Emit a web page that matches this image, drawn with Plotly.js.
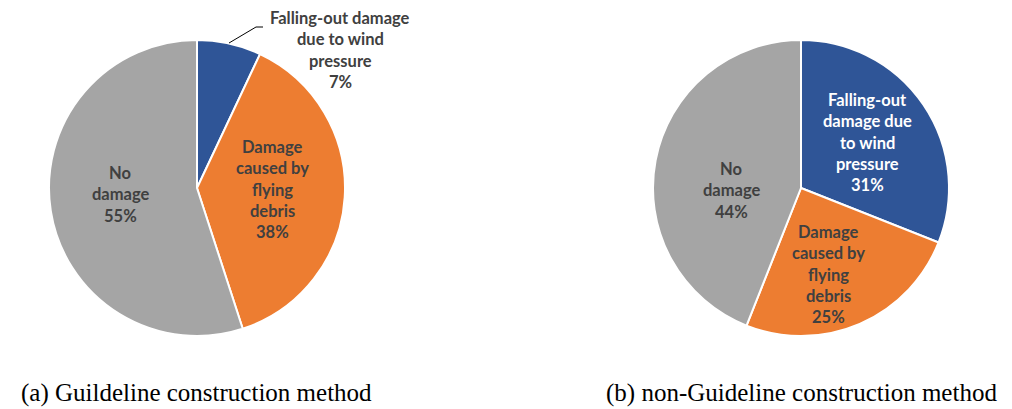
<!DOCTYPE html>
<html>
<head>
<meta charset="utf-8">
<script src="https://cdn.plot.ly/plotly-3.0.1.min.js"></script>
<style>html,body{margin:0;padding:0;background:#fff;} #chart{width:1012px;height:409px;}</style>
</head>
<body>
<div id="chart"></div>
<script>
// Data
const categories = ["Falling-out damage due to wind pressure", "Damage caused by flying debris", "No damage"];
const guidelineValues = [7, 38, 55];
const nonGuidelineValues = [31, 25, 44];
const sliceColors = ["#2F5597", "#ED7D31", "#A5A5A5"];
const guidelineLabelLines = [["Falling-out damage", "due to wind", "pressure"], ["Damage", "caused by", "flying", "debris"], ["No", "damage"]];
const nonGuidelineLabelLines = [["Falling-out", "damage due", "to wind", "pressure"], ["Damage", "caused by", "flying", "debris"], ["No", "damage"]];
const captions = ["(a) Guildeline construction method", "(b) non-Guideline construction method"];

const W = 1012, H = 409;
const px = x => x / W;
const py = y => 1 - y / H;

function pieTrace(values, dom) {
  return {
    type: 'pie',
    labels: categories,
    values: values,
    sort: false,
    direction: 'clockwise',
    rotation: 0,
    textinfo: 'none',
    hoverinfo: 'label+percent',
    marker: {colors: sliceColors, line: {color: '#ffffff', width: 2}},
    domain: dom,
    showlegend: false
  };
}

const data = [
  pieTrace(guidelineValues, {x: [px(49), px(345)], y: [py(336), py(40)]}),
  pieTrace(nonGuidelineValues, {x: [px(653), px(949)], y: [py(336), py(40)]})
];

const labelFont = {family: 'Lato, "Open Sans", sans-serif', size: 16.5, color: '#404040'};
// label anchor positions (pixel centres of the first line)
const guidelinePos = [[340, 18], [272, 147], [120, 173]];
const nonGuidelinePos = [[867, 100], [828, 232], [731, 169]];
const nonGuidelineColors = ['#ffffff', '#404040', '#404040'];
const lineStep = 21.3;

const annotations = [];
function addLabel(lines, pct, pos, color) {
  const all = lines.concat([pct + '%']);
  all.forEach((t, i) => {
    annotations.push({
      xref: 'paper', yref: 'paper',
      x: px(pos[0]), y: py(pos[1] + i * lineStep),
      xanchor: 'center', yanchor: 'middle',
      text: '<b>' + t + '</b>', showarrow: false,
      font: Object.assign({}, labelFont, {color: color})
    });
  });
}
guidelineValues.forEach((v, i) => addLabel(guidelineLabelLines[i], v, guidelinePos[i], '#404040'));
nonGuidelineValues.forEach((v, i) => addLabel(nonGuidelineLabelLines[i], v, nonGuidelinePos[i], nonGuidelineColors[i]));

const captionFont = {family: '"Liberation Serif", "Times New Roman", serif', size: 25, color: '#000000'};
annotations.push({xref: 'paper', yref: 'paper', x: px(196), y: 0, xanchor: 'center', yanchor: 'bottom', text: captions[0], showarrow: false, font: captionFont});
annotations.push({xref: 'paper', yref: 'paper', x: px(801), y: 0, xanchor: 'center', yanchor: 'bottom', text: captions[1], showarrow: false, font: captionFont});

const layout = {
  width: W, height: H,
  margin: {l: 0, r: 0, t: 0, b: 0},
  paper_bgcolor: '#ffffff',
  annotations: annotations,
  shapes: [{
    type: 'path', xref: 'paper', yref: 'paper',
    path: `M ${px(229)} ${py(43)} L ${px(256)} ${py(27)} L ${px(263)} ${py(27)}`,
    line: {color: '#000000', width: 1}
  }]
};

Plotly.newPlot('chart', data, layout, {displayModeBar: false, staticPlot: true});
</script>
</body>
</html>
